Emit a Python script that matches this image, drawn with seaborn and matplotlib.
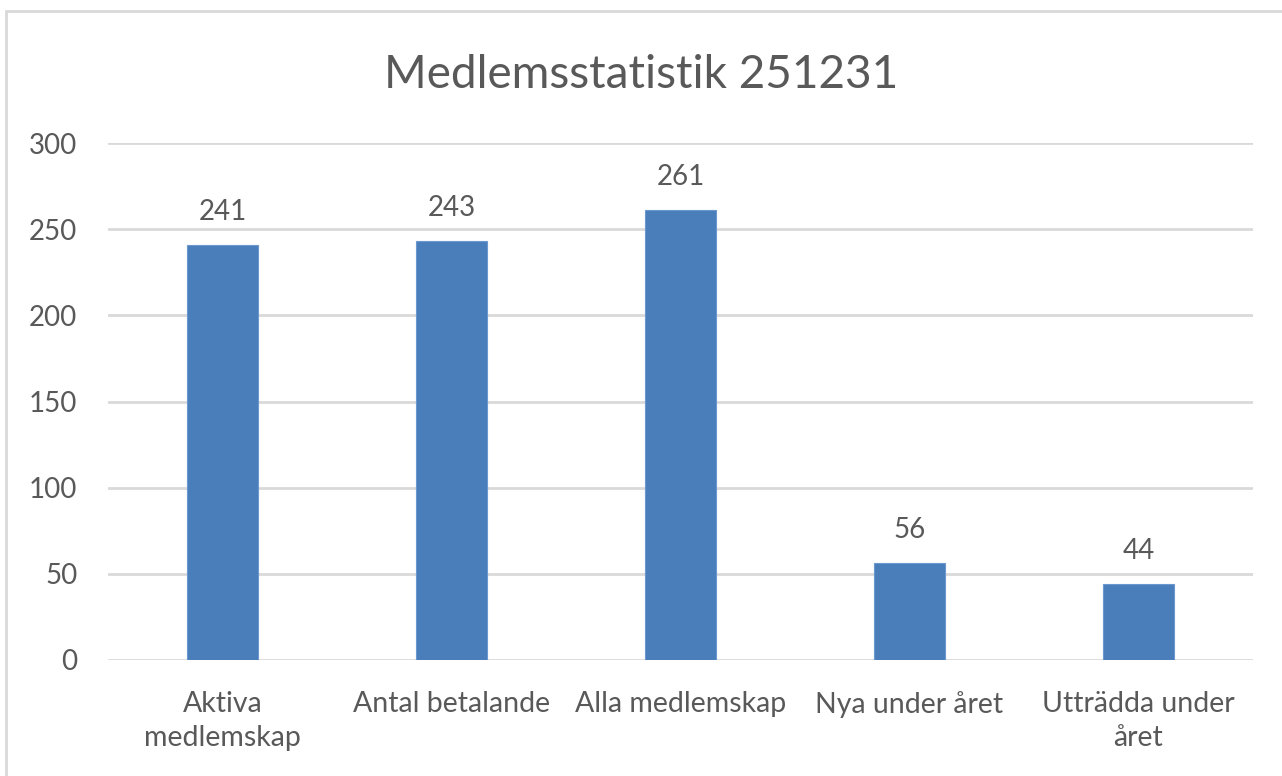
import matplotlib
matplotlib.use('Agg')
import matplotlib.pyplot as plt
import seaborn as sns
import pandas as pd
from matplotlib.lines import Line2D

# Data
categories = ['Aktiva\nmedlemskap', 'Antal betalande', 'Alla medlemskap',
              'Nya under året', 'Utträdda under\nåret']
values = [241, 243, 261, 56, 44]
y_ticks = [0, 50, 100, 150, 200, 250, 300]

df = pd.DataFrame({'kategori': categories, 'antal': values})

sns.set_theme(style='white')
plt.rcParams['font.family'] = ['Lato', 'DejaVu Sans']

text_col = '#595959'
grid_col = '#d9d9d9'
bar_col = '#4a7ebb'

fig = plt.figure(figsize=(12.82, 7.76), dpi=100)
ax = fig.add_axes([108 / 1282, 1 - 660 / 776, (1253 - 108) / 1282, (660 - 143) / 776])

sns.barplot(data=df, x='kategori', y='antal', color=bar_col, saturation=1,
            width=0.314, edgecolor='#6a98cf', linewidth=0.8, ax=ax, zorder=3)

ax.set_ylim(0, 300)
ax.set_xlim(-0.5, len(categories) - 0.5)
ax.set_yticks(y_ticks)
ax.set_yticklabels([str(t) for t in y_ticks])
ax.set_xlabel('')
ax.set_ylabel('')

# gridlines
for t in y_ticks:
    ax.axhline(t, color=grid_col, linewidth=2, zorder=1)

for s in ax.spines.values():
    s.set_visible(False)

ax.tick_params(axis='y', length=0, pad=22, labelsize=20, labelcolor=text_col)
ax.tick_params(axis='x', length=0, pad=22, labelsize=20.5, labelcolor=text_col)
for lbl in ax.get_xticklabels():
    lbl.set_linespacing(1.4)

# value labels
for p, v in zip(ax.patches, values):
    ax.annotate(f'{v}', (p.get_x() + p.get_width() / 2, p.get_height()),
                xytext=(0, 18), textcoords='offset points',
                ha='center', va='baseline', fontsize=20, color=text_col)

fig.text(0.5, 1 - 88 / 776, 'Medlemsstatistik 251231', ha='center', va='baseline',
         fontsize=33, color=text_col)

# chart frame (left and top edges visible in the crop)
fig.add_artist(Line2D([6 / 1282, 6 / 1282], [0, 1 - 11 / 776], color=grid_col,
                      linewidth=2, transform=fig.transFigure))
fig.add_artist(Line2D([6 / 1282, 1], [1 - 11 / 776, 1 - 11 / 776], color=grid_col,
                      linewidth=2, transform=fig.transFigure))

fig.savefig('out.png', dpi=100)
